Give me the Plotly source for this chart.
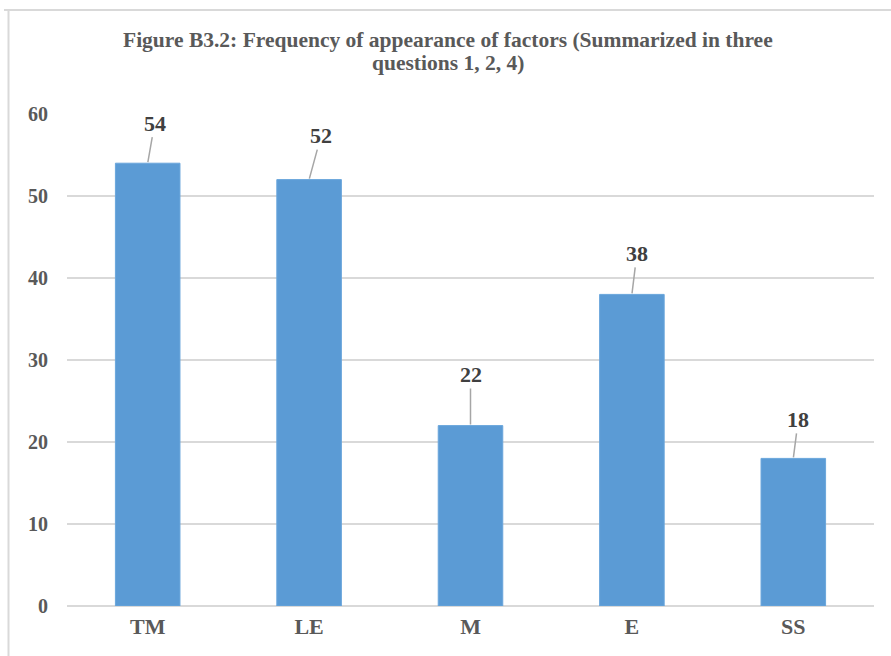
import plotly.graph_objects as go

categories = ["TM", "LE", "M", "E", "SS"]
values = [54, 52, 22, 38, 18]
y_ticks = [0, 10, 20, 30, 40, 50, 60]
title_lines = ["Figure B3.2: Frequency of appearance of factors (Summarized in three",
               "questions 1, 2, 4)"]

# label callout offsets (pixels), style only
label_dx = [7, 12, 0, 5, 5]
label_dy = [-40, -44, -51, -41, -39]

W, H = 891, 656
L, R, T, B = 67, 17, 114, 50
pw, ph = W - L - R, H - T - B

def px(x):
    return (x - L) / pw

def py(y):
    return (H - B - y) / ph

fig = go.Figure()
fig.add_trace(go.Bar(
    x=categories, y=values,
    marker=dict(color="#5B9BD5", line=dict(color="#6AA6DC", width=1)),
    hoverinfo="skip",
))

annotations = []
for c, v, dx, dy in zip(categories, values, label_dx, label_dy):
    annotations.append(dict(
        x=c, y=v, xref="x", yref="y", text=f"<b>{v}</b>",
        showarrow=True, arrowhead=0, arrowwidth=1.5, arrowcolor="#A6A6A6",
        ax=dx, ay=dy, standoff=1,
        font=dict(family="Liberation Serif", size=22, color="#404040"),
    ))

for line, ypix in zip(title_lines, [40, 63]):
    annotations.append(dict(
        x=px(448), y=py(ypix), xref="paper", yref="paper", xanchor="center", yanchor="middle",
        text=f"<b>{line}</b>", showarrow=False,
        font=dict(family="Liberation Serif", size=21.5, color="#595959"),
    ))

shapes = [
    dict(type="line", xref="paper", yref="paper", x0=px(4), x1=px(891), y0=py(10), y1=py(10),
         line=dict(color="#D9D9D9", width=2)),
    dict(type="line", xref="paper", yref="paper", x0=px(8.5), x1=px(8.5), y0=py(10), y1=py(660),
         line=dict(color="#D9D9D9", width=2)),
]

fig.update_layout(
    width=W, height=H,
    margin=dict(l=L, r=R, t=T, b=B, pad=0),
    paper_bgcolor="white", plot_bgcolor="white",
    bargap=0.6,
    showlegend=False,
    annotations=annotations,
    shapes=shapes,
    xaxis=dict(showgrid=False, showline=False, zeroline=False, ticks="",
               tickfont=dict(family="Liberation Serif", size=22, color="#595959", weight="bold"),
               ticklabelstandoff=5),
    yaxis=dict(range=[0, 60], tickvals=y_ticks, ticktext=[str(t) for t in y_ticks],
               showgrid=True, gridcolor="#D9D9D9", gridwidth=2,
               zeroline=True, zerolinecolor="#D9D9D9", zerolinewidth=2, showline=False, ticks="",
               tickfont=dict(family="Liberation Serif", size=20, color="#595959", weight="bold"),
               ticklabelstandoff=18),
)

fig.write_html("out.html")
